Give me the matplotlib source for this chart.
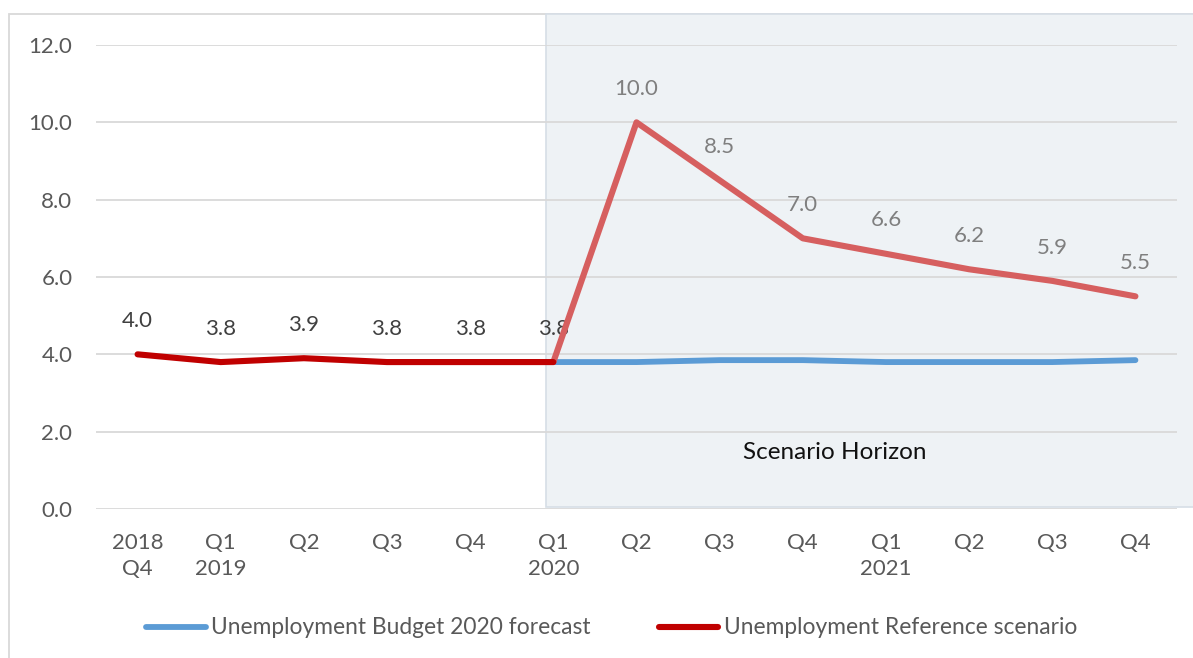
import matplotlib.pyplot as plt
from matplotlib.patches import Rectangle
import numpy as np

plt.rcParams['font.family'] = ['Lato', 'DejaVu Sans']

# ---------------- data ----------------
tick_labels = ['2018\nQ4', 'Q1\n2019', 'Q2', 'Q3', 'Q4', 'Q1\n2020',
               'Q2', 'Q3', 'Q4', 'Q1\n2021', 'Q2', 'Q3', 'Q4']
history = [4.0, 3.8, 3.9, 3.8, 3.8, 3.8]               # 2018 Q4 .. 2020 Q1
scenario = [3.8, 10.0, 8.5, 7.0, 6.6, 6.2, 5.9, 5.5]   # 2020 Q1 .. 2021 Q4
budget = [3.8, 3.8, 3.85, 3.85, 3.8, 3.8, 3.8, 3.85]   # 2020 Q1 .. 2021 Q4
scenario_start = 5   # index of 2020 Q1

# ---------------- figure ----------------
fig = plt.figure(figsize=(11.93, 6.58), dpi=100)
W, H = 1193, 658

# outer chart border
fig.patches.append(Rectangle((9 / W, -0.01), 1.02, 1 - 14 / H + 0.01,
                             transform=fig.transFigure, fill=False,
                             edgecolor='#D9D9D9', lw=1.3, zorder=0))
# scenario horizon shading
fig.patches.append(Rectangle((546 / W, 1 - 507 / H), 1 - 546 / W + 0.01, (507 - 14) / H,
                             transform=fig.transFigure, facecolor='#EEF2F5',
                             edgecolor='#D6DEE6', lw=1.2, zorder=0))

ax = fig.add_axes([96 / W, 1 - 509 / H, (1177 - 96) / W, (509 - 45) / H])
ax.set_zorder(2)
ax.patch.set_alpha(0)

x_hist = np.arange(len(history))
x_scen = np.arange(scenario_start, scenario_start + len(scenario))

ax.plot(x_scen, budget, color='#5B9BD5', lw=4.2, solid_capstyle='round',
        label='Unemployment Budget 2020 forecast', zorder=3)
ax.plot(x_scen, scenario, color='#D65F5F', lw=4.4, solid_capstyle='round', zorder=4)
ax.plot(x_hist, history, color='#C00000', lw=4.4, solid_capstyle='round',
        label='Unemployment Reference scenario', zorder=4)

for xi, v in zip(x_hist, history):
    ax.annotate(f'{v:.1f}', (xi, v), xytext=(0, 24), textcoords='offset points',
                ha='center', va='center', fontsize=16, color='#404040', zorder=2)
for xi, v in zip(x_scen[1:], scenario[1:]):
    ax.annotate(f'{v:.1f}', (xi, v), xytext=(0, 24), textcoords='offset points',
                ha='center', va='center', fontsize=16, color='#7F7F7F', zorder=2)

ax.text(8.39, 1.45, 'Scenario Horizon', ha='center', va='center',
        fontsize=17.5, color='#111111')

ax.set_xlim(-0.5, 12.5)
ax.set_ylim(0, 12)
ax.set_yticks(np.arange(0, 12.1, 2))
ax.set_yticklabels([f'{t:.1f}' for t in np.arange(0, 12.1, 2)])
ax.set_xticks(np.arange(len(tick_labels)))
ax.set_xticklabels(tick_labels, linespacing=1.4)
ax.tick_params(axis='both', length=0, labelsize=16, labelcolor='#595959')
ax.tick_params(axis='x', pad=17)
ax.tick_params(axis='y', pad=17)
ax.grid(axis='y', color='#D9D9D9', lw=1.3)
ax.set_axisbelow(True)
for s in ax.spines.values():
    s.set_visible(False)

handles, labels = ax.get_legend_handles_labels()
fig.legend(handles, labels, loc='center', bbox_to_anchor=(0.513, 1 - 628 / H),
           ncol=2, frameon=False, fontsize=16.4, handlelength=2.6,
           handletextpad=0.25, columnspacing=3.0, labelcolor='#595959')

fig.savefig('out.png', dpi=100)
